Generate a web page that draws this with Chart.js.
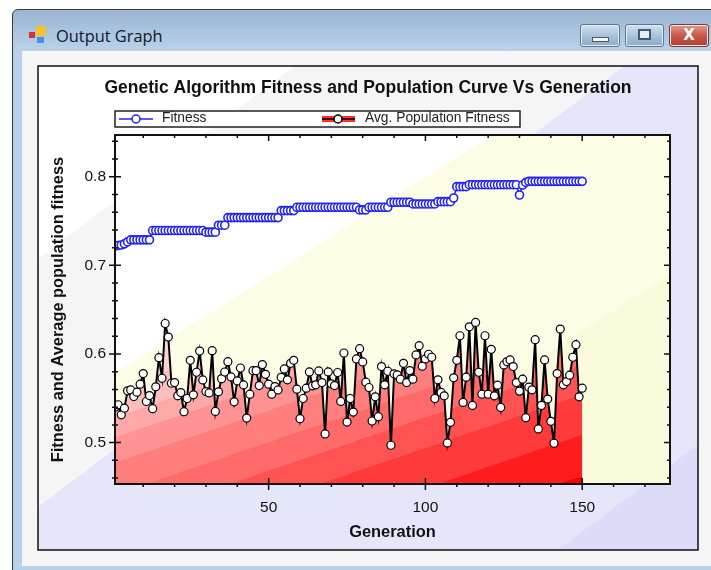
<!DOCTYPE html>
<html>
<head>
<meta charset="utf-8">
<title>Output Graph</title>
<script src="https://cdn.jsdelivr.net/npm/chart.js@4"></script>
<style>
html, body { margin: 0; padding: 0; background: #fff; overflow: hidden; }
#page { position: relative; width: 711px; height: 570px; overflow: hidden; }
#win { position: absolute; left: 12px; top: 9px; width: 720px; height: 570px; border: 1px solid #3a3a3a; border-radius: 6px 0 0 0; background: linear-gradient(#9ab5d3, #b9d1ea 40px, #b9d1ea); }
#client { position: absolute; left: 22px; top: 51px; width: 689px; height: 515px; background: #f5f5f5; }
#caption { position: absolute; left: 56px; top: 24px; font: 16.4px "Open Sans", "Noto Sans", sans-serif; color: #101828; }
.ic { position: absolute; }
.btn { position: absolute; top: 24px; height: 21px; border: 1px solid #5d7690; border-radius: 3px; background: linear-gradient(#d3e1f0, #a9c2dc 50%, #8fabc9); box-shadow: inset 0 0 0 1px #e4edf6; }
#chart { position: absolute; left: 0; top: 0; }
</style>
</head>
<body>
<div id="page">
  <div id="win"></div>
  <div id="client"></div>
  <div class="ic" style="left:29px;top:32px;width:6px;height:6px;background:#d0392b"></div>
  <div class="ic" style="left:36px;top:26px;width:10px;height:10px;background:#f4c430"></div>
  <div class="ic" style="left:37px;top:37px;width:7px;height:6px;background:#4a90e2"></div>
  <div id="caption">Output Graph</div>
  <div class="btn" style="left:580px;width:38px"><div style="margin:12px auto 0;width:15px;height:3px;background:#f4f7fa;border:1px solid #46586c"></div></div>
  <div class="btn" style="left:625px;width:37px"><div style="margin:4px auto 0;width:9px;height:7px;border:2px solid #46586c;background:#e4edf6"></div></div>
  <div class="btn" style="left:669px;width:38px;border-color:#7c3a30;background:linear-gradient(#e09a8c,#c9584a 50%,#b5402f);color:#fff;font:bold 15px/20px 'DejaVu Sans';text-align:center">X</div>
  <canvas id="chart" width="711" height="570"></canvas>
</div>
<script>
const chartTitle = 'Genetic Algorithm Fitness and Population Curve Vs Generation';
const xLabel = 'Generation';
const yLabel = 'Fitness and Average population fitness';
const generations = [];
for (let g = 1; g <= 150; g++) generations.push(g);

const fitness = [
  .7217,.7225,.7230,.7243,.7265,.7288,.7288,.7288,.7288,.7288,
  .7288,.7288,.7393,.7393,.7393,.7393,.7393,.7393,.7393,.7393,
  .7393,.7393,.7393,.7393,.7393,.7393,.7393,.7393,.7393,.7375,
  .7375,.7375,.7375,.7453,.7453,.7453,.7539,.7539,.7539,.7539,
  .7539,.7539,.7539,.7539,.7539,.7539,.7539,.7539,.7539,.7539,
  .7539,.7539,.7539,.7618,.7618,.7618,.7618,.7618,.7655,.7655,
  .7655,.7655,.7655,.7655,.7655,.7655,.7655,.7655,.7655,.7655,
  .7655,.7655,.7655,.7655,.7655,.7655,.7655,.7655,.7626,.7626,
  .7626,.7655,.7655,.7655,.7655,.7655,.7655,.7655,.7712,.7712,
  .7712,.7712,.7712,.7712,.7712,.7693,.7693,.7693,.7693,.7693,
  .7693,.7693,.7693,.7719,.7719,.7719,.7719,.7719,.7760,.7888,
  .7888,.7888,.7888,.7910,.7910,.7910,.7910,.7910,.7910,.7910,
  .7910,.7910,.7910,.7910,.7910,.7910,.7910,.7910,.7910,.7794,
  .7906,.7936,.7948,.7948,.7948,.7948,.7948,.7948,.7948,.7948,
  .7948,.7948,.7948,.7948,.7948,.7948,.7948,.7948,.7948,.7948
];

const avgFitness = [
  .5400,.5427,.5314,.5389,.5584,.5595,.5520,.5569,.5659,.5779,
  .5464,.5531,.5382,.5629,.5958,.5726,.6344,.6191,.5670,.5677,
  .5528,.5565,.5348,.5498,.5928,.5539,.5794,.6033,.5707,.5576,
  .5561,.6037,.5352,.5573,.5722,.5797,.5913,.5741,.5460,.5696,
  .5842,.5651,.5277,.5546,.5812,.5812,.5644,.5880,.5771,.5659,
  .5546,.5632,.5595,.5737,.5832,.5708,.5895,.5929,.5603,.5270,
  .5498,.5614,.5798,.5641,.5652,.5809,.5678,.5098,.5798,.5663,
  .5644,.5791,.5465,.6011,.5232,.5498,.5345,.5944,.6060,.5910,
  .5682,.5622,.5244,.5517,.5292,.5858,.5652,.5805,.4970,.5776,
  .5764,.5716,.5895,.5678,.5813,.5716,.5989,.6094,.5862,.5944,
  .5997,.5963,.5498,.5708,.5566,.5528,.4997,.5229,.5731,.5929,
  .6206,.5453,.5738,.6307,.5420,.6356,.5794,.5547,.6206,.5547,
  .6053,.5528,.5648,.5397,.5877,.5914,.5933,.5858,.5678,.5581,
  .5716,.5281,.5626,.5596,.6161,.5154,.5420,.5933,.5491,.5240,
  .4993,.5779,.6281,.5652,.5689,.5761,.5963,.6105,.5517,.5614
];

// stepped diagonal fills, t = position along the gradient direction in page pixels
const panelBands = [[0, '#ffffff'], [230, '#f5f5f5'], [428, '#e6e6fa'], [775, '#dcdcf9'], [950, '#dcdcf9']];
const plotBands = [[0, '#ffffff'], [377, '#fdfde6'], [590, '#f9f9dc'], [800, '#f9f9dc']];
const redBands = [[300, '#ffd4d4'], [405, '#ffbebe'], [432, '#ffa8a8'], [451, '#ff9292'], [475, '#ff7e7e'], [505, '#ff6a6a'], [532, '#ff5252'], [561, '#ff3a3a'], [599, '#ff1c1c'], [638, '#ff0000'], [700, '#ff0000']];

function steppedGradient(ctx, nx, ny, bands) {
  const t0 = bands[0][0], t1 = bands[bands.length - 1][0];
  const g = ctx.createLinearGradient(nx * t0, ny * t0, nx * t1, ny * t1);
  bands.forEach((b, i) => {
    const s = (b[0] - t0) / (t1 - t0);
    if (i > 0) g.addColorStop(s, bands[i - 1][1]);
    g.addColorStop(s, b[1]);
  });
  return g;
}

const backdrop = {
  id: 'backdrop',
  beforeDraw(chart) {
    const c = chart.ctx, a = chart.chartArea;
    c.save();
    c.fillStyle = steppedGradient(c, 0.601, 0.799, panelBands);
    c.fillRect(38, 66, 660, 484);
    c.fillStyle = steppedGradient(c, 0.533, 0.846, plotBands);
    c.fillRect(a.left, a.top, a.right - a.left, a.bottom - a.top);
    c.restore();
  },
  afterDraw(chart) {
    const c = chart.ctx, a = chart.chartArea;
    const sx = chart.scales.x, sy = chart.scales.y;
    c.save();
    c.strokeStyle = '#111';
    c.lineWidth = 1.5;
    c.strokeRect(38, 66, 660, 484);
    c.lineWidth = 2;
    c.strokeRect(a.left, a.top, a.right - a.left, a.bottom - a.top);

    c.lineWidth = 1.5;
    c.beginPath();
    sx.ticks.forEach(t => {
      const x = sx.getPixelForValue(t.value);
      const major = t.value % 50 === 0;
      c.moveTo(x, a.bottom + (major ? 6 : 3));
      c.lineTo(x, a.bottom - (major ? 6 : 0));
      c.moveTo(x, a.top);
      c.lineTo(x, a.top + (major ? 6 : 3));
    });
    sy.ticks.forEach(t => {
      const y = sy.getPixelForValue(t.value);
      const major = Math.round(t.value * 100) % 10 === 0;
      c.moveTo(a.left - (major ? 6 : 3), y);
      c.lineTo(a.left + (major ? 6 : 3), y);
      c.moveTo(a.right, y);
      c.lineTo(a.right - (major ? 6 : 3), y);
    });
    c.stroke();

    // chart title
    c.fillStyle = '#111';
    c.textAlign = 'center';
    c.textBaseline = 'middle';
    c.font = 'bold 17.5px "Liberation Sans"';
    c.fillText(chartTitle, 368, 88);

    // legend box
    c.fillStyle = '#fff';
    c.fillRect(115, 111, 405, 16);
    c.strokeStyle = '#222';
    c.lineWidth = 1.5;
    c.strokeRect(115, 111, 405, 16);
    c.textAlign = 'left';
    c.font = '13.8px "Liberation Sans"';
    c.fillStyle = '#222';
    c.fillText(chart.data.datasets[0].label, 162, 118);
    c.fillText(chart.data.datasets[1].label, 365, 118);
    c.strokeStyle = '#2222ee';
    c.lineWidth = 1.5;
    c.beginPath(); c.moveTo(119, 119); c.lineTo(153, 119); c.stroke();
    c.fillStyle = '#fff';
    c.beginPath(); c.arc(136, 119, 4, 0, 7); c.fill(); c.stroke();
    c.fillStyle = '#ff3030';
    c.fillRect(322, 116, 33, 6);
    c.strokeStyle = '#000';
    c.beginPath(); c.moveTo(322, 119); c.lineTo(355, 119); c.stroke();
    c.fillStyle = '#fff';
    c.beginPath(); c.arc(338, 119, 4, 0, 7); c.fill(); c.stroke();
    c.restore();
  }
};

// marks stop at the left axis but may overflow the other sides
const markClip = { left: 0, top: 20, right: 20, bottom: 20 };

new Chart(document.getElementById('chart'), {
  type: 'line',
  plugins: [backdrop],
  data: {
    labels: generations,
    datasets: [
      {
        label: 'Fitness',
        data: fitness,
        borderColor: '#2222ee',
        borderWidth: 1.5,
        pointRadius: 4,
        pointBorderWidth: 1.6,
        pointBackgroundColor: '#fff',
        pointBorderColor: '#2222ee',
        tension: 0,
        clip: markClip
      },
      {
        label: 'Avg. Population Fitness',
        data: avgFitness,
        borderColor: '#000',
        borderWidth: 2,
        pointRadius: 4,
        pointBorderWidth: 1.2,
        pointBackgroundColor: '#fff',
        pointBorderColor: '#000',
        tension: 0,
        fill: 'start',
        backgroundColor: c => steppedGradient(c.chart.ctx, 0.322, 0.947, redBands),
        clip: markClip
      },
      {
        // pale halo that sits under the black line
        label: 'halo',
        data: avgFitness,
        borderColor: 'rgba(255,255,235,0.75)',
        borderWidth: 4,
        pointRadius: 0,
        tension: 0,
        clip: markClip
      }
    ]
  },
  options: {
    responsive: false,
    animation: false,
    devicePixelRatio: 1,
    layout: { padding: { left: 47, right: 41, top: 135, bottom: 26 } },
    plugins: { legend: { display: false }, tooltip: { enabled: false } },
    scales: {
      x: {
        type: 'linear',
        min: 1,
        max: 178,
        grid: { display: false },
        border: { display: false },
        afterFit: s => { s.height = 60; },
        ticks: {
          stepSize: 10,
          autoSkip: false,
          includeBounds: false,
          maxRotation: 0,
          padding: 6,
          color: '#111',
          font: { family: 'Liberation Sans', size: 15.5 },
          callback: v => (v % 50 === 0 ? String(v) : '')
        },
        title: {
          display: true,
          text: xLabel,
          color: '#111',
          font: { family: 'Liberation Sans', size: 16.4, weight: 'bold' },
          padding: { top: 0, bottom: 2 }
        }
      },
      y: {
        min: 0.4533,
        max: 0.8471,
        grid: { display: false },
        border: { display: false },
        afterFit: s => { s.width = 68; },
        ticks: {
          stepSize: 0.02,
          autoSkip: false,
          includeBounds: false,
          padding: 1,
          color: '#111',
          font: { family: 'Liberation Sans', size: 15.5 },
          callback: v => (Math.round(v * 100) % 10 === 0 ? v.toFixed(1) : '')
        },
        title: {
          display: true,
          text: yLabel,
          color: '#111',
          font: { family: 'Liberation Sans', size: 16.4, weight: 'bold' },
          padding: { top: 2, bottom: 0 }
        }
      }
    }
  }
});
</script>
</body>
</html>
